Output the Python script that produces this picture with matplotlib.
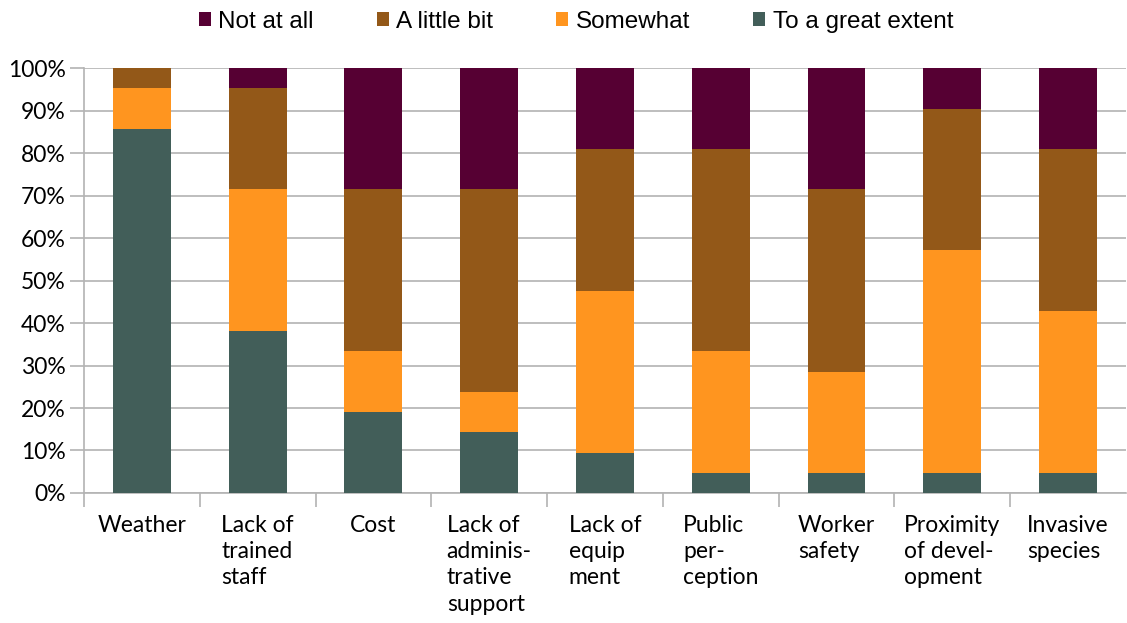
import matplotlib
matplotlib.use("Agg")
import matplotlib.pyplot as plt
import numpy as np
from matplotlib.ticker import PercentFormatter

categories = [
    "Weather",
    "Lack of\ntrained\nstaff",
    "Cost",
    "Lack of\nadminis-\ntrative\nsupport",
    "Lack of\nequip\nment",
    "Public\nper-\nception",
    "Worker\nsafety",
    "Proximity\nof devel-\nopment",
    "Invasive\nspecies",
]

# responses per category (21 respondents), stacked bottom to top
n_respondents = 21
great_extent = [18, 8, 4, 3, 2, 1, 1, 1, 1]
somewhat = [2, 7, 3, 2, 8, 6, 5, 11, 8]
little_bit = [1, 5, 8, 10, 7, 10, 9, 7, 8]
not_at_all = [0, 1, 6, 6, 4, 4, 6, 2, 4]

series = [
    ("To a great extent", great_extent, "#425e59"),
    ("Somewhat", somewhat, "#ff951f"),
    ("A little bit", little_bit, "#935818"),
    ("Not at all", not_at_all, "#560033"),
]

fig = plt.figure(figsize=(11.27, 6.23), dpi=100)
ax = fig.add_axes([0.0745, 0.2087, 0.9246, 0.682])

x = np.arange(len(categories))
bottom = np.zeros(len(categories))
handles = {}
for label, counts, color in series:
    vals = np.array(counts) / n_respondents * 100
    bars = ax.bar(x, vals, 0.5, bottom=bottom, color=color, label=label, zorder=3)
    handles[label] = bars
    bottom += vals

ax.set_xlim(-0.5, len(categories) - 0.5)
ax.set_ylim(0, 100)
ax.set_yticks(np.arange(0, 101, 10))
ax.yaxis.set_major_formatter(PercentFormatter(decimals=0))
ax.grid(axis="y", color="#b3b3b3", linewidth=1.2, zorder=0)

# category dividers on the x axis instead of centred ticks
ax.set_xticks(np.arange(-0.5, len(categories) - 0.5, 1.0))
ax.set_xticklabels([])
ax.set_xticks(x, minor=True)
ax.set_xticklabels(categories, minor=True, fontfamily="Lato", fontsize=16.5,
                   ha="center", va="top", multialignment="left", linespacing=1.3)
ax.tick_params(axis="x", which="major", length=10, color="#b3b3b3", width=1.2)
ax.tick_params(axis="x", which="minor", length=0, pad=16)
ax.tick_params(axis="y", length=10, color="#b3b3b3", width=1.2, pad=3)
for t in ax.get_yticklabels():
    t.set_fontfamily("Lato")
    t.set_fontsize(16.5)

for side in ["top", "right"]:
    ax.spines[side].set_visible(False)
for side in ["left", "bottom"]:
    ax.spines[side].set_color("#b3b3b3")
    ax.spines[side].set_linewidth(1.2)

order = ["Not at all", "A little bit", "Somewhat", "To a great extent"]
fig.legend([handles[k] for k in order], order, loc="upper center",
           bbox_to_anchor=(0.511, 1.018), ncol=4, frameon=False,
           prop={"family": "Liberation Sans", "size": 17.5},
           handlelength=0.5, handleheight=0.5, handletextpad=0.3,
           columnspacing=2.6)

fig.savefig("out.png", dpi=100)
